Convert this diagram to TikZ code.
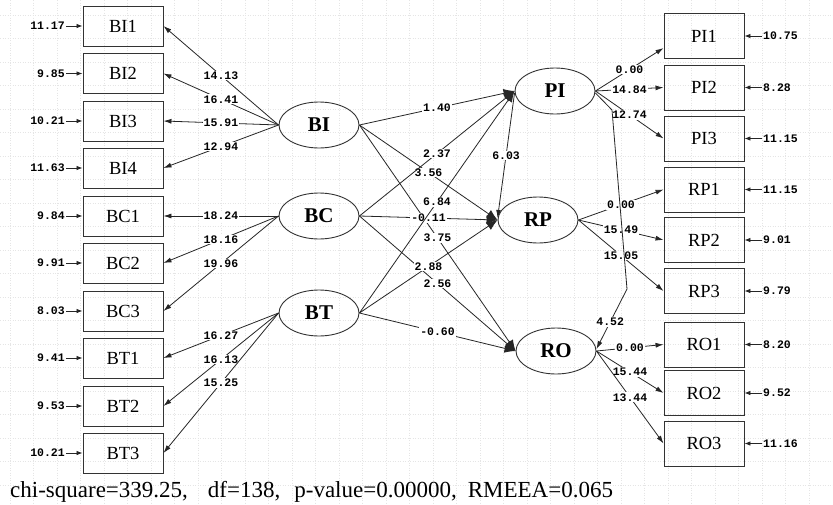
\documentclass[tikz,border=0pt]{standalone}
\usepackage{fontspec}
\setmainfont{Liberation Serif}
\newfontfamily\monofont{Liberation Mono}
\usetikzlibrary{arrows.meta,shapes.geometric}
\begin{document}
\begin{tikzpicture}[x=1pt,y=-1pt,
  obsbox/.style={draw=black!80, line width=0.9pt, minimum width=80pt, minimum height=40pt, inner sep=0pt, font=\fontsize{18.5}{18.5}\selectfont},
  obsboxr/.style={obsbox, minimum height=45pt},
  latent/.style={draw=black!80, ellipse, line width=0.9pt, minimum width=80pt, minimum height=46pt, inner sep=0pt, font=\fontsize{21}{21}\selectfont\bfseries},
  num/.style={font=\monofont\bfseries\fontsize{11.5}{11.5}\selectfont, inner sep=1pt},
  lbl/.style={num, fill=white, pos=0.5},
  conn/.style={draw=black!85, line width=0.8pt},
  meas/.style={conn, -{Latex[length=8pt,width=5pt]}},
  struct/.style={conn, -{Latex[length=11pt,width=9pt]}},
  err/.style={conn, -{Latex[length=6pt,width=4.5pt]}},
  gridl/.style={black!10, line width=0.5pt, dotted},
]
\fill[white] (0,0) rectangle (833,504);
\useasboundingbox (0,0) rectangle (833,504);
% faint background grid
\foreach \yy in {15,38.5,...,500} \draw[gridl] (0,\yy) -- (833,\yy);
\foreach \xx in {10,33.5,...,830} \draw[gridl] (\xx,0) -- (\xx,504);

% left observed variables
\foreach \n/\y/\e in {BI1/26/11.17, BI2/73.5/9.85, BI3/121/10.21, BI4/168/11.63,
                      BC1/216/9.84, BC2/263/9.91, BC3/311/8.03,
                      BT1/358/9.41, BT2/406/9.53, BT3/453/10.21}{
  \node[obsbox] (\n) at (123,\y) {\n};
  \node[num, anchor=east] (e\n) at (66,\y) {\e};
  \draw[err] (e\n.east) -- (\n.west);
}
% right observed variables
\foreach \n/\y/\e in {PI1/36/10.75, PI2/87.5/8.28, PI3/138.5/11.15,
                      RP1/189.5/11.15, RP2/240/9.01, RP3/291/9.79,
                      RO1/344.5/8.20, RO2/393/9.52, RO3/443.5/11.16}{
  \node[obsboxr] (\n) at (704,\y) {\n};
  \node[num, anchor=west] (e\n) at (762,\y) {\e};
  \draw[err] (e\n.west) -- (\n.east);
}

% latent variables
\node[latent] (BI) at (319,125) {BI};
\node[latent] (BC) at (319,216) {BC};
\node[latent] (BT) at (319,313) {BT};
\node[latent] (PI) at (555,91) {PI};
\node[latent] (RP) at (538,220) {RP};
\node[latent] (RO) at (556,351) {RO};

% measurement paths (left)
\draw[meas] (BI.west) -- node[lbl]{14.13} (BI1.east);
\draw[meas] (BI.west) -- node[lbl]{16.41} (BI2.east);
\draw[meas] (BI.west) -- node[lbl]{15.91} (BI3.east);
\draw[meas] (BI.west) -- node[lbl]{12.94} (BI4.east);
\draw[meas] (BC.west) -- node[lbl]{18.24} (BC1.east);
\draw[meas] (BC.west) -- node[lbl]{18.16} (BC2.east);
\draw[meas] (BC.west) -- node[lbl]{19.96} (BC3.east);
\draw[meas] (BT.west) -- node[lbl]{16.27} (BT1.east);
\draw[meas] (BT.west) -- node[lbl]{16.13} (BT2.east);
\draw[meas] (BT.west) -- node[lbl]{15.25} (BT3.east);

% measurement paths (right)
\draw[meas] (PI.east) -- node[lbl]{0.00} ([yshift=-12pt]PI1.west);
\draw[meas] (PI.east) -- node[lbl]{14.84} (PI2.west);
\draw[meas] (PI.east) -- node[lbl]{12.74} (PI3.west);
\draw[meas] (RP.east) -- node[lbl]{0.00} (RP1.west);
\draw[meas] (RP.east) -- node[lbl]{15.49} (RP2.west);
\draw[meas] (RP.east) -- node[lbl]{15.05} (RP3.west);
\draw[meas] (RO.east) -- node[lbl]{0.00} (RO1.west);
\draw[meas] (RO.east) -- node[lbl]{15.44} (RO2.west);
\draw[meas] (RO.east) -- node[lbl]{13.44} (RO3.west);

% structural paths
\draw[struct] (BI.east) -- node[lbl]{1.40} (PI.west);
\draw[struct] (BI.east) -- node[lbl]{3.56} (RP.west);
\draw[struct] (BI.east) -- node[lbl]{3.75} (RO.west);
\draw[struct] (BC.east) -- node[lbl]{2.37} (PI.west);
\draw[struct] (BC.east) -- node[lbl]{-0.11} (RP.west);
\draw[struct] (BC.east) -- node[lbl]{2.56} (RO.west);
\draw[struct] (BT.east) -- node[lbl]{6.84} (PI.west);
\draw[struct] (BT.east) -- node[lbl]{2.88} (RP.west);
\draw[struct] (BT.east) -- node[lbl]{-0.60} (RO.west);

\draw[meas] ([yshift=-2pt]PI.west) -- node[lbl]{6.03} ([yshift=2pt]RP.west);
\coordinate (b1) at (612,110);
\coordinate (b2) at (627,289);
\draw[meas] ([yshift=-2pt]PI.east) -- (b1) -- (b2) -- node[lbl, pos=0.55]{4.52} ([yshift=2pt]RO.east);

% fit statistics
\node[anchor=base west, inner sep=0pt, font=\fontsize{23}{23}\selectfont] (fit) at (10,497)
  {chi-square=339.25,\hspace{20pt}df=138,\hspace{14pt}p-value=0.00000,\hspace{11pt}RMEEA=0.065};
\end{tikzpicture}
\end{document}
